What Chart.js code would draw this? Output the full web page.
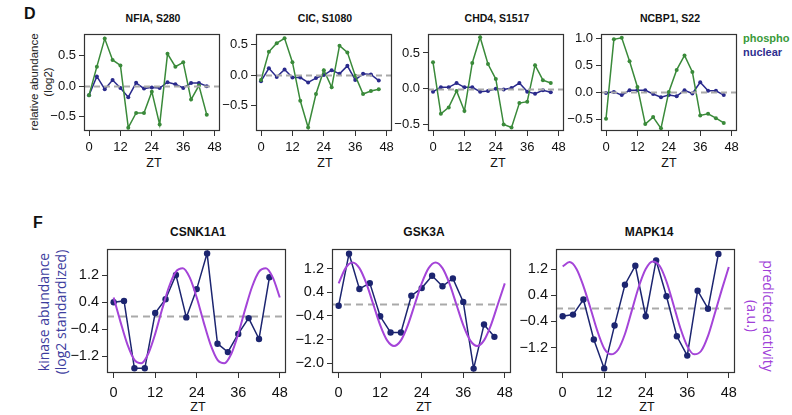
<!DOCTYPE html>
<html>
<head>
<meta charset="utf-8">
<script src="https://cdn.jsdelivr.net/npm/chart.js@4.4.1/dist/chart.umd.min.js"></script>
<style>
  html, body { margin: 0; padding: 0; background: #fff; }
  #fig { position: relative; width: 792px; height: 415px; overflow: hidden;
         font-family: "Liberation Sans", Arial, sans-serif; color: #111; }
  #fig canvas { position: absolute; }
  .lbl { position: absolute; white-space: nowrap; transform: translate(-50%, -50%); }
  .title { font-weight: bold; font-size: 10.5px; }
  .ftitle { font-weight: bold; font-size: 12px; }
  .zt { font-size: 12.5px; }
  .panel { font-weight: bold; font-size: 16px; transform: translate(0, -50%); }
  .rot { transform: translate(-50%, -50%) rotate(-90deg); }
  .rotr { transform: translate(-50%, -50%) rotate(90deg); }
</style>
</head>
<body>
<div id="fig">
  <div class="lbl panel" style="left:24px; top:14px;">D</div>
  <div class="lbl panel" style="left:33px; top:223px;">F</div>

  <div class="lbl title" style="left:153px; top:18px;">NFIA, S280</div>
  <div class="lbl title" style="left:325px; top:18px;">CIC, S1080</div>
  <div class="lbl title" style="left:497px; top:18px;">CHD4, S1517</div>
  <div class="lbl title" style="left:670px; top:18px;">NCBP1, S22</div>

  <div class="lbl ftitle" style="left:198px; top:232px;">CSNK1A1</div>
  <div class="lbl ftitle" style="left:424px; top:232px;">GSK3A</div>
  <div class="lbl ftitle" style="left:649px; top:232px;">MAPK14</div>

  <div class="lbl zt" style="left:154px; top:163px;">ZT</div>
  <div class="lbl zt" style="left:325px; top:163px;">ZT</div>
  <div class="lbl zt" style="left:498px; top:163px;">ZT</div>
  <div class="lbl zt" style="left:669px; top:163px;">ZT</div>
  <div class="lbl zt" style="left:198px; top:407px;">ZT</div>
  <div class="lbl zt" style="left:424px; top:407px;">ZT</div>
  <div class="lbl zt" style="left:647px; top:407px;">ZT</div>

  <div class="lbl rot" style="left:34px; top:82px; font-size:11.5px; color:#222;">relative abundance</div>
  <div class="lbl rot" style="left:48px; top:82px; font-size:11.5px; color:#222;">(log2)</div>

  <div class="lbl rot" style="left:43px; top:312px; font-size:14px; color:#3d3d9e; font-family:'Open Sans', sans-serif;">kinase abundance</div>
  <div class="lbl rot" style="left:60px; top:312px; font-size:14px; color:#3d3d9e; font-family:'Open Sans', sans-serif;">(log2 standardized)</div>
  <div class="lbl rotr" style="left:768px; top:316px; font-size:14px; color:#a040d8; font-family:'Open Sans', sans-serif;">predicted activity</div>
  <div class="lbl rotr" style="left:752px; top:316px; font-size:14px; color:#a040d8; font-family:'Open Sans', sans-serif;">(a.u.)</div>

  <div class="lbl" style="left:743px; top:38px; transform:translate(0,-50%); font-weight:bold; font-size:11px; color:#3a9a3a;">phospho</div>
  <div class="lbl" style="left:743px; top:52px; transform:translate(0,-50%); font-weight:bold; font-size:11px; color:#2f2f8f;">nuclear</div>
</div>
<script>
// sampling times (ZT, hours)
const zt = [0, 3, 6, 9, 12, 15, 18, 21, 24, 27, 30, 33, 36, 39, 42, 45];
const ztCurve = [0, 2, 4, 6, 8, 10, 12, 14, 16, 18, 20, 22, 24, 26, 28, 30, 32, 34, 36, 38, 40, 42, 44, 46, 48];
const xTicks = [0, 12, 24, 36, 48];

// panel D: phospho vs nuclear (log2 relative abundance)
const nfiaPhospho = [-0.15, 0.32, 0.78, 0.43, 0.34, -0.68, -0.44, -0.44, -0.09, -0.63, 0.53, 0.32, 0.39, -0.22, 0.01, -0.47];
const nfiaNuclear = [-0.15, 0.16, -0.05, 0.10, -0.03, -0.18, 0.055, -0.04, -0.02, -0.03, 0.065, 0.03, -0.03, 0.05, 0.05, 0.0];
const cicPhospho = [-0.08, 0.38, 0.52, 0.60, 0.21, -0.42, -0.855, -0.31, 0.08, -0.20, 0.48, 0.37, -0.01, -0.31, -0.26, -0.23];
const cicNuclear = [-0.10, 0.11, -0.03, 0.09, -0.04, -0.04, -0.12, -0.05, 0.0, 0.08, 0.02, 0.15, -0.08, 0.02, 0.01, -0.09];
const chd4Phospho = [0.37, -0.35, -0.26, -0.03, -0.31, 0.36, 0.72, 0.345, 0.135, -0.50, -0.54, -0.20, -0.18, 0.33, 0.12, 0.08];
const chd4Nuclear = [-0.04, 0.02, 0.02, 0.08, 0.02, 0.02, -0.04, -0.03, 0.0, -0.01, 0.01, 0.08, -0.04, -0.07, -0.02, -0.05];
const ncbp1Phospho = [-0.49, 0.99, 1.02, 0.58, 0.10, -0.59, -0.46, -0.67, 0.01, 0.42, 0.69, 0.38, -0.43, -0.40, -0.48, -0.57];
const ncbp1Nuclear = [-0.01, 0.01, -0.05, 0.04, 0.04, 0.04, -0.03, -0.09, -0.05, -0.07, 0.04, -0.02, 0.19, 0.03, 0.03, -0.05];

// panel F: kinase abundance and predicted activity
const csnkAbundance = [0.40, 0.44, -1.56, -1.56, 0.08, 0.49, 1.21, -0.05, 0.79, 1.85, -0.83, -1.08, -0.54, -0.07, -0.69, 1.14];
const csnkActivity = [0.54, -0.19, -0.86, -1.31, -1.41, -1.13, -0.54, 0.19, 0.86, 1.31, 1.41, 1.13, 0.54, -0.19, -0.86, -1.31, -1.41, -1.13, -0.54, 0.19, 0.86, 1.31, 1.41, 1.13, 0.54];
const gskAbundance = [-0.05, 1.72, 0.52, 0.72, -0.41, -0.96, -0.96, 0.29, 0.55, 0.97, 0.61, 0.88, 0.08, -2.19, -0.69, -1.11];
const gskActivity = [0.71, 1.23, 1.42, 1.23, 0.71, 0.0, -0.71, -1.23, -1.42, -1.23, -0.71, 0.0, 0.71, 1.23, 1.42, 1.23, 0.71, 0.0, -0.71, -1.23, -1.42, -1.23, -0.71, 0.0, 0.71];
const mapkAbundance = [-0.24, -0.19, 0.27, -0.95, -1.83, -0.52, 0.72, 1.30, -0.24, 1.46, 0.37, -0.85, -1.44, 0.54, -0.01, 1.66];
const mapkActivity = [1.28, 1.41, 1.20, 0.68, 0.02, -0.68, -1.22, -1.40, -1.26, -0.78, -0.06, 0.66, 1.20, 1.43, 1.30, 0.82, 0.12, -0.60, -1.15, -1.40, -1.30, -0.84, -0.14, 0.58, 1.26];

// y tick values
const ticksD = [-0.5, 0, 0.5];
const ticksNcbp1 = [-0.5, 0, 0.5, 1.0];
const ticksF = [-1.2, -0.4, 0.4, 1.2];
const ticksGsk = [-2.0, -1.2, -0.4, 0.4, 1.2];

const GREEN = '#3a8a3a';
const BLUE = '#2a2a8c';
const NAVY = '#1c2570';
const PURPLE = '#a444d8';

function pts(xs, ys) {
    return xs.map((x, i) => ({ x: x, y: ys[i] }));
}

function fmt(v) {
    const s = Math.abs(v).toFixed(1);
    return v < 0 ? '\u2212' + s : s;
}

function drawZero(chart, opts) {
    const area = chart.chartArea;
    const y = Math.round(chart.scales.y.getPixelForValue(0)) + 0.5;
    const ctx = chart.ctx;
    ctx.save();
    ctx.beginPath();
    ctx.rect(area.left, area.top, area.width, area.height);
    ctx.clip();
    ctx.strokeStyle = '#a9a9a9';
    ctx.lineWidth = opts.zeroWidth;
    ctx.setLineDash(opts.dash);
    ctx.beginPath();
    ctx.moveTo(area.left, y);
    ctx.lineTo(area.right, y);
    ctx.stroke();
    ctx.restore();
}

const framePlugin = {
    id: 'frame',
    beforeDatasetsDraw(chart, args, opts) {
        if (opts.zeroFirst) drawZero(chart, opts);
    },
    afterDatasetsDraw(chart, args, opts) {
        if (!opts.zeroFirst) drawZero(chart, opts);
    },
    afterDraw(chart) {
        const a = chart.chartArea;
        const ctx = chart.ctx;
        ctx.save();
        ctx.strokeStyle = '#333';
        ctx.lineWidth = 1.2;
        ctx.strokeRect(Math.round(a.left) + 0.5, Math.round(a.top) + 0.5,
                       Math.round(a.width) - 1, Math.round(a.height) - 1);
        ctx.restore();
    }
};

const fig = document.getElementById('fig');

function makePanel(p) {
    // top padding larger than half a tick label, so chart area top == padT
    const padT = 12, padR = 4;
    const w = p.yW + p.boxW + padR;
    const h = padT + p.boxH + p.xH;
    const cv = document.createElement('canvas');
    cv.width = w;
    cv.height = h;
    cv.style.left = (p.boxL - p.yW) + 'px';
    cv.style.top = (p.boxT - padT) + 'px';
    cv.style.width = w + 'px';
    cv.style.height = h + 'px';
    fig.appendChild(cv);

    new Chart(cv.getContext('2d'), {
        type: 'line',
        data: { datasets: p.datasets },
        plugins: [framePlugin],
        options: {
            responsive: false,
            animation: false,
            devicePixelRatio: 1,
            layout: { padding: { top: padT, right: padR, left: 0, bottom: 0 } },
            plugins: {
                legend: { display: false },
                tooltip: { enabled: false },
                frame: { zeroFirst: p.zeroFirst, dash: p.dash, zeroWidth: p.zeroWidth }
            },
            scales: {
                x: {
                    type: 'linear',
                    min: -1.92,
                    max: 49.92,
                    afterBuildTicks: s => { s.ticks = xTicks.map(v => ({ value: v })); },
                    afterFit: s => { s.height = p.xH; },
                    border: { display: false },
                    grid: { drawOnChartArea: false, drawTicks: true, tickLength: 5, color: '#333', lineWidth: 1 },
                    ticks: {
                        autoSkip: false, maxRotation: 0, padding: p.xPad, color: '#111',
                        font: { family: '"Liberation Sans", Arial, sans-serif', size: p.fontSize },
                        callback: v => String(v)
                    }
                },
                y: {
                    type: 'linear',
                    min: p.yMin,
                    max: p.yMax,
                    afterBuildTicks: s => { s.ticks = p.yTicks.map(v => ({ value: v })); },
                    afterFit: s => { s.width = p.yW; },
                    border: { display: false },
                    grid: { drawOnChartArea: false, drawTicks: true, tickLength: 5, color: '#333', lineWidth: 1 },
                    ticks: {
                        autoSkip: false, padding: 3, color: '#111',
                        font: { family: '"Liberation Sans", Arial, sans-serif', size: p.fontSize },
                        callback: v => fmt(v)
                    }
                }
            }
        }
    });
}

function markerSet(xs, ys, color, radius, width) {
    return {
        data: pts(xs, ys),
        borderColor: color,
        backgroundColor: color,
        borderWidth: width,
        pointRadius: radius,
        pointBorderWidth: 0,
        pointBackgroundColor: color,
        tension: 0
    };
}

function curveSet(xs, ys) {
    return {
        data: pts(xs, ys),
        borderColor: PURPLE,
        borderWidth: 2,
        pointRadius: 0,
        tension: 0.4,
        cubicInterpolationMode: 'monotone'
    };
}

const panelD = { boxT: 34, boxW: 138, boxH: 97, yW: 40, xH: 30, xPad: 4, fontSize: 13,
                 zeroFirst: false, dash: [6, 4], zeroWidth: 1.8 };
const panelF = { boxT: 249, boxW: 183, boxH: 124, yW: 50, xH: 34, xPad: 6, fontSize: 14.5,
                 zeroFirst: true, dash: [7, 5], zeroWidth: 2 };

const dPanels = [
    { boxL: 84, yMin: -0.735, yMax: 0.855, yTicks: ticksD, phos: nfiaPhospho, nuc: nfiaNuclear },
    { boxL: 256, yMin: -0.913, yMax: 0.67, yTicks: ticksD, phos: cicPhospho, nuc: cicNuclear },
    { boxL: 428, yMin: -0.59, yMax: 0.765, yTicks: ticksD, phos: chd4Phospho, nuc: chd4Nuclear },
    { boxL: 601, yMin: -0.72, yMax: 1.09, yTicks: ticksNcbp1, phos: ncbp1Phospho, nuc: ncbp1Nuclear }
];

dPanels.forEach(d => {
    makePanel(Object.assign({}, panelD, d, {
        datasets: [
            markerSet(zt, d.phos, GREEN, 2, 1.5),
            markerSet(zt, d.nuc, BLUE, 2, 1.5)
        ]
    }));
});

const fPanels = [
    { boxL: 107, yMin: -1.70, yMax: 1.98, yTicks: ticksF, abund: csnkAbundance, act: csnkActivity },
    { boxL: 332, yMin: -2.34, yMax: 1.88, yTicks: ticksGsk, abund: gskAbundance, act: gskActivity },
    { boxL: 556, yMin: -1.97, yMax: 1.81, yTicks: ticksF, abund: mapkAbundance, act: mapkActivity }
];

fPanels.forEach(f => {
    makePanel(Object.assign({}, panelF, f, {
        datasets: [
            curveSet(ztCurve, f.act),
            markerSet(zt, f.abund, NAVY, 3.2, 1.5)
        ]
    }));
});
</script>
</body>
</html>
